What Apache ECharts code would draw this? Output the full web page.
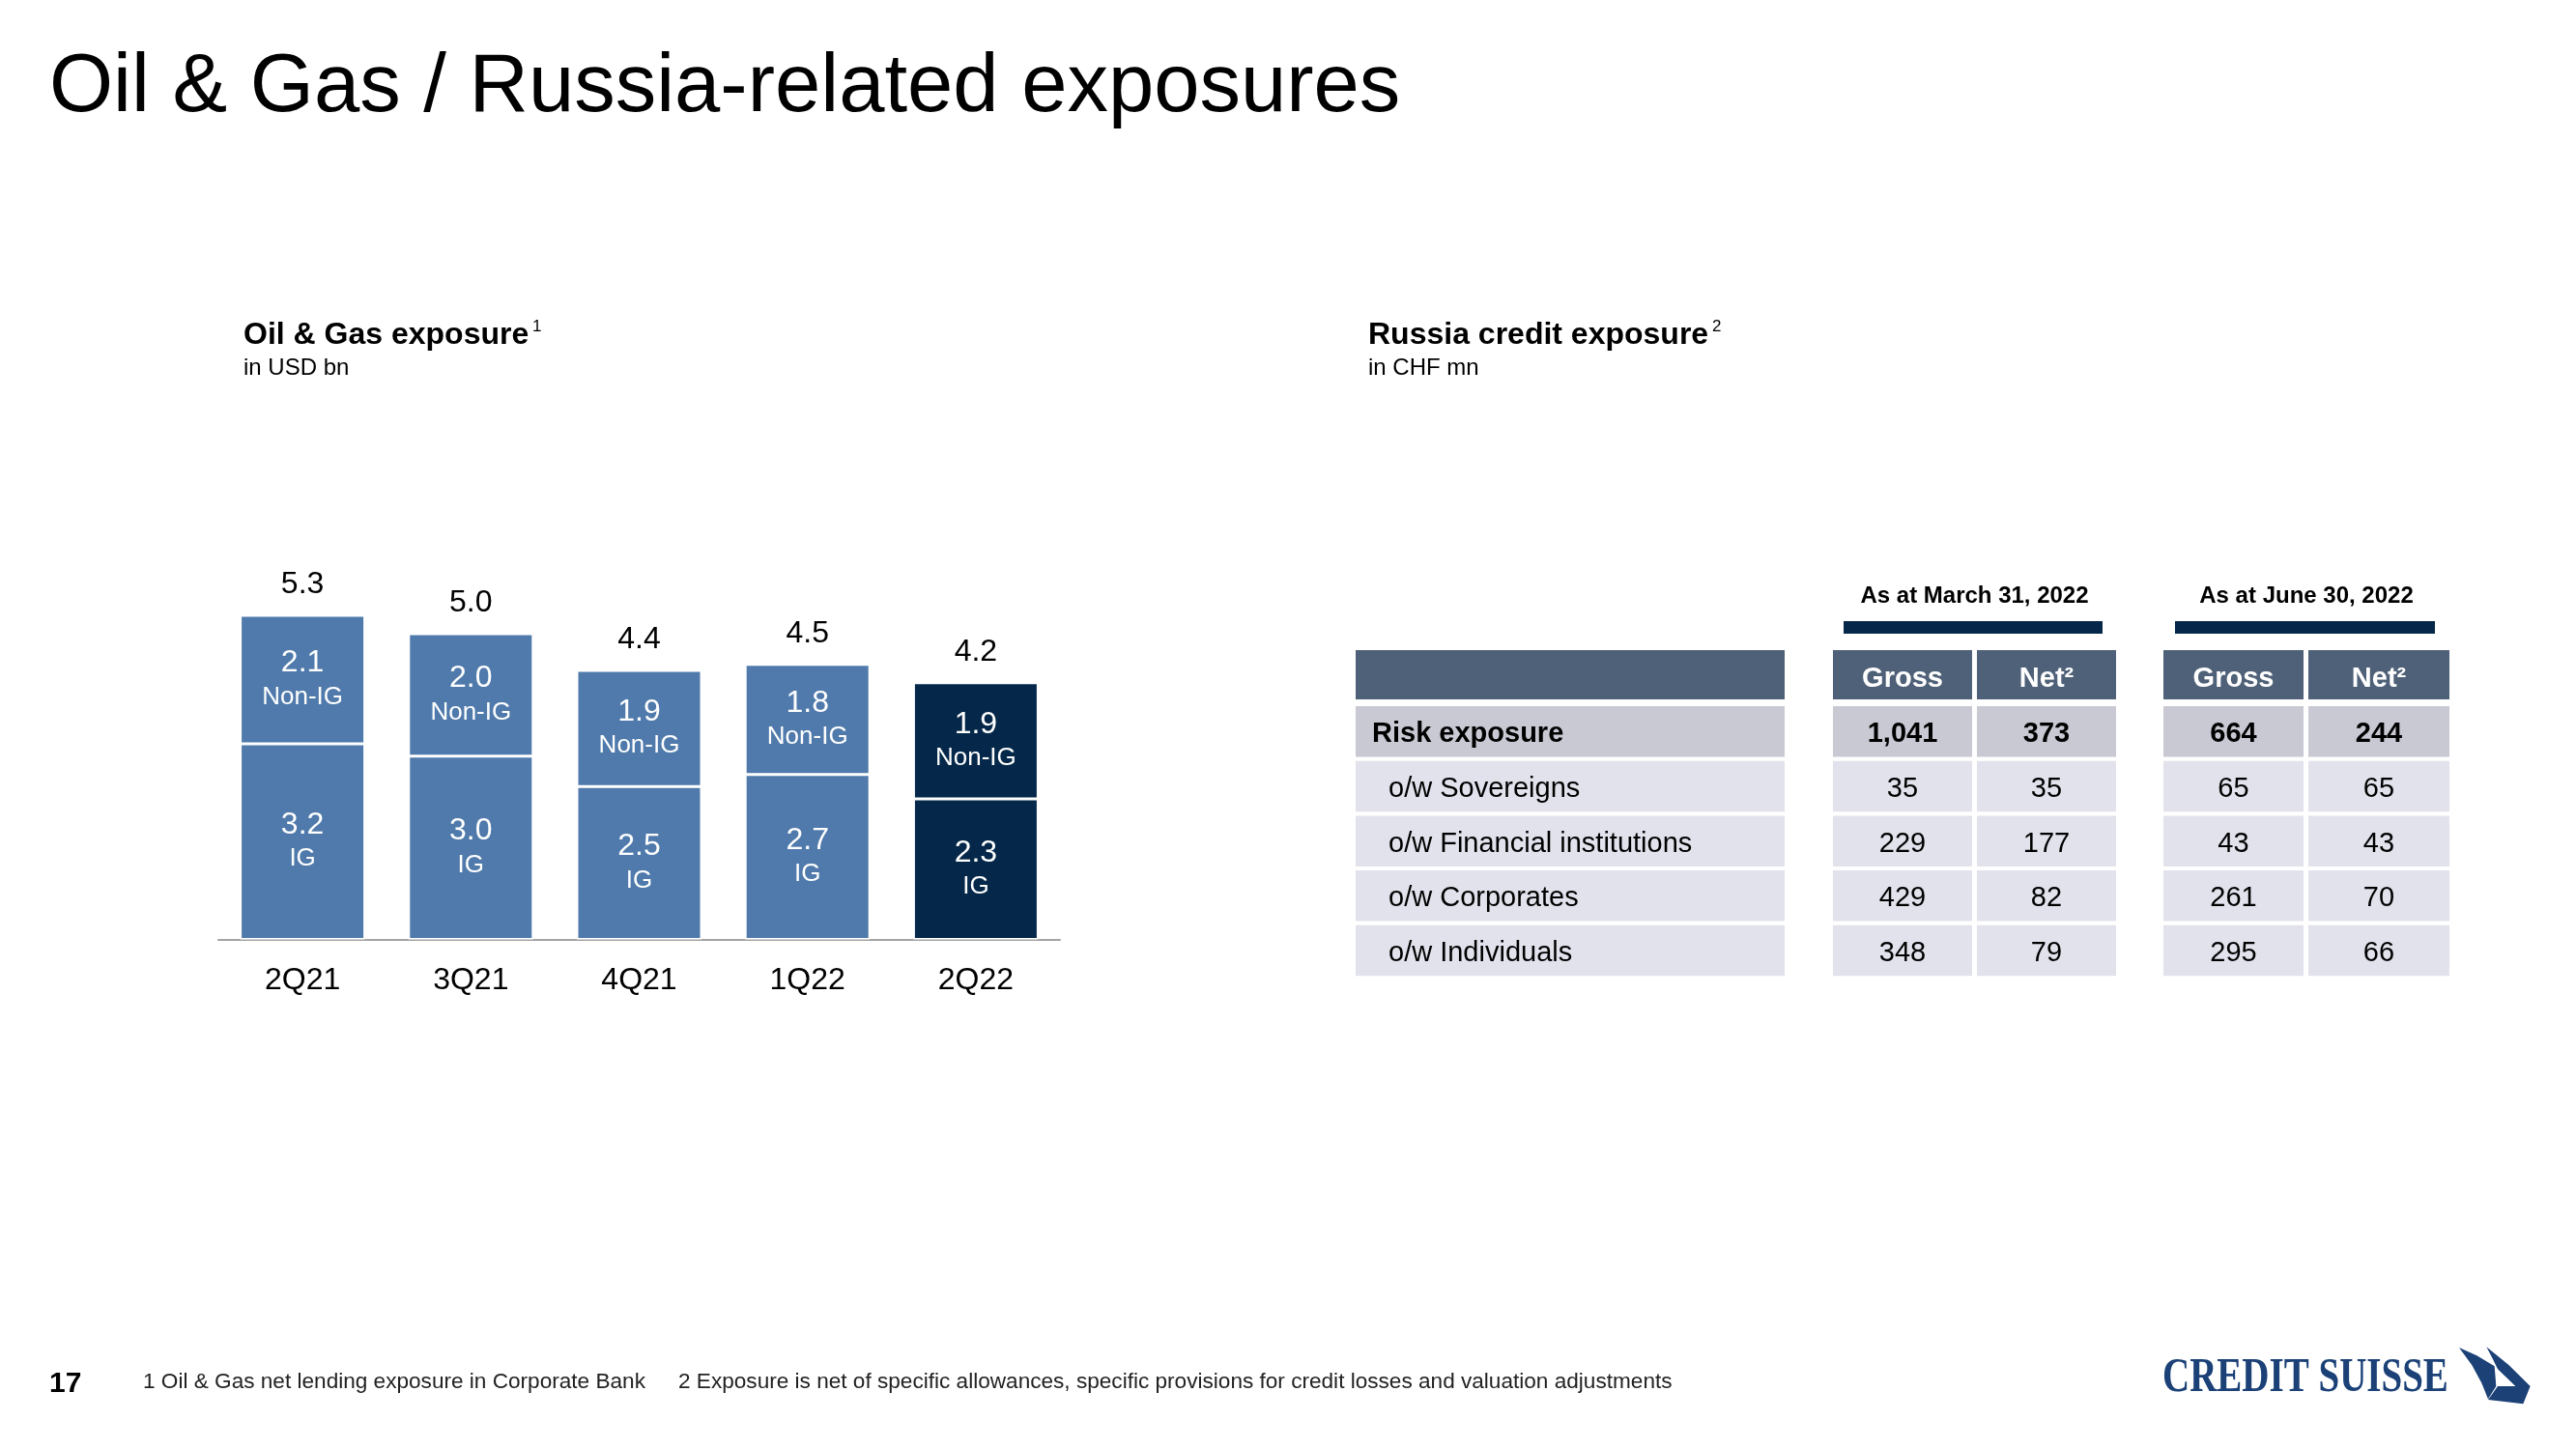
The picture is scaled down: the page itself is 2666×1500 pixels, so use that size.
<!DOCTYPE html>
<html>
<head>
<meta charset="utf-8">
<script src="https://cdn.jsdelivr.net/npm/echarts@6/dist/echarts.min.js"></script>
<style>
html,body{margin:0;padding:0;background:#fff;}
#main{width:2666px;height:1500px;}
</style>
</head>
<body>
<div id="main"></div>
<script>
// ---------- data ----------
const categories = ['2Q21', '3Q21', '4Q21', '1Q22', '2Q22'];
const igValues = [3.2, 3.0, 2.5, 2.7, 2.3];
const nonIgValues = [2.1, 2.0, 1.9, 1.8, 1.9];
const totalValues = [5.3, 5.0, 4.4, 4.5, 4.2];
const highlightCategory = '2Q22';

const periodLabels = ['As at March 31, 2022', 'As at June 30, 2022'];
const columnHeaders = ['Gross', 'Net²'];
const rowLabels = ['Risk exposure', 'o/w Sovereigns', 'o/w Financial institutions', 'o/w Corporates', 'o/w Individuals'];
const mar22Gross = [1041, 35, 229, 429, 348];
const mar22Net = [373, 35, 177, 82, 79];
const jun22Gross = [664, 65, 43, 261, 295];
const jun22Net = [244, 65, 43, 70, 66];

// ---------- styles ----------
const FONT = "'Liberation Sans', Arial, sans-serif";
const LIGHT = '#4F7AAB';
const DARK = '#05284A';
const HEADER = '#4F6178';
const RISKROW = '#C8C9D3';
const ROW = '#E1E2EC';

const chart = echarts.init(document.getElementById('main'), null, {renderer: 'canvas'});

function txt(text, x, y, opts) {
  opts = opts || {};
  return {
    type: 'text', x: x, y: y, silent: true,
    scaleX: opts.scaleX || 1,
    style: {
      text: text,
      fill: opts.fill || '#000',
      fontSize: opts.size || 24,
      fontWeight: opts.weight || 'normal',
      fontFamily: opts.family || FONT,
      align: opts.align || 'left',
      verticalAlign: opts.va || 'middle'
    }
  };
}
function rect(x, y, w, h, fill) {
  return {type: 'rect', silent: true, shape: {x: x, y: y, width: w, height: h}, style: {fill: fill}};
}

const graphics = [];
// page title
graphics.push(txt('Oil & Gas / Russia-related exposures', 51, 92, {size: 85}));
// chart titles
graphics.push(txt('Oil & Gas exposure', 252, 347, {size: 32, weight: 'bold'}));
graphics.push(txt('1', 551, 338, {size: 17}));
graphics.push(txt('in USD bn', 252, 381, {size: 24}));
graphics.push(txt('Russia credit exposure', 1416, 347, {size: 32, weight: 'bold'}));
graphics.push(txt('2', 1772, 338, {size: 17}));
graphics.push(txt('in CHF mn', 1416, 381, {size: 24}));

// ---------- table ----------
const labelCol = {x: 1403, w: 444};
const groups = [
  {cols: [{x: 1897, w: 144}, {x: 2046, w: 144}], bar: {x: 1908, w: 268}, data: [mar22Gross, mar22Net]},
  {cols: [{x: 2239, w: 145}, {x: 2389, w: 146}], bar: {x: 2251, w: 269}, data: [jun22Gross, jun22Net]}
];
const headerY = 673, headerH = 51;
const rowY0 = 731, rowPitch = 56.7, rowH = 52.5;
const fmtInt = v => v.toLocaleString('en-US');

graphics.push(rect(labelCol.x, headerY, labelCol.w, headerH, HEADER));
groups.forEach((g, gi) => {
  const cx = (g.cols[0].x + g.cols[1].x + g.cols[1].w) / 2;
  graphics.push(txt(periodLabels[gi], cx, 617, {size: 24, weight: 'bold', align: 'center'}));
  graphics.push(rect(g.bar.x, 643, g.bar.w, 13, DARK));
  g.cols.forEach((c, ci) => {
    graphics.push(rect(c.x, headerY, c.w, headerH, HEADER));
    graphics.push(txt(columnHeaders[ci], c.x + c.w / 2, headerY + headerH / 2 + 4, {size: 29, weight: 'bold', align: 'center', fill: '#fff'}));
  });
});
rowLabels.forEach((lab, ri) => {
  const y = rowY0 + ri * rowPitch;
  const fill = ri === 0 ? RISKROW : ROW;
  const weight = ri === 0 ? 'bold' : 'normal';
  graphics.push(rect(labelCol.x, y, labelCol.w, rowH, fill));
  graphics.push(txt(lab, ri === 0 ? 1420 : 1437, y + rowH / 2 + 3, {size: 29, weight: weight}));
  groups.forEach(g => {
    g.cols.forEach((c, ci) => {
      graphics.push(rect(c.x, y, c.w, rowH, fill));
      graphics.push(txt(fmtInt(g.data[ci][ri]), c.x + c.w / 2, y + rowH / 2 + 3, {size: 29, weight: weight, align: 'center'}));
    });
  });
});

// ---------- footer ----------
graphics.push(txt('17', 51, 1433, {size: 30, weight: 'bold'}));
graphics.push(txt('1 Oil & Gas net lending exposure in Corporate Bank', 148, 1431, {size: 22.6, fill: '#222'}));
graphics.push(txt('2 Exposure is net of specific allowances, specific provisions for credit losses and valuation adjustments', 702, 1431, {size: 22.6, fill: '#222'}));
// logo
graphics.push(txt('CREDIT SUISSE', 2238, 1427, {size: 50, weight: 'bold', family: "'Liberation Serif', 'Times New Roman', serif", fill: '#1B4177', scaleX: 0.78}));
graphics.push({
  type: 'group', x: 2540, y: 1385, scaleX: 1 / 3, scaleY: 1 / 3, silent: true,
  children: [
    {type: 'polygon', shape: {points: [[15, 30], [70, 55], [125, 88], [130, 150], [105, 190], [85, 140], [55, 85]]}, style: {fill: '#1B4177'}},
    {type: 'polygon', shape: {points: [[100, 28], [170, 85], [236, 150], [214, 205], [105, 192], [135, 150], [190, 150], [135, 97], [118, 62]]}, style: {fill: '#1B4177'}}
  ]
});

// ---------- bar chart ----------
const colorFor = i => categories[i] === highlightCategory ? DARK : LIGHT;
const segLabel = (name) => ({
  show: true, position: 'inside',
  formatter: p => '{v|' + p.value.toFixed(1) + '}\n{t|' + name + '}',
  rich: {
    v: {fontSize: 32, lineHeight: 36, color: '#fff', fontFamily: FONT},
    t: {fontSize: 26, lineHeight: 34, color: '#fff', fontFamily: FONT}
  }
});

const option = {
  animation: false,
  backgroundColor: '#fff',
  grid: {left: 226, width: 871, top: 972.6 - 6 * 63.3, bottom: 1500 - 972.6, containLabel: false},
  xAxis: {
    type: 'category', data: categories,
    axisLine: {lineStyle: {color: '#A3A3A3', width: 2}},
    axisTick: {show: false},
    axisLabel: {fontSize: 32, color: '#000', margin: 27, fontFamily: FONT}
  },
  yAxis: {type: 'value', min: 0, max: 6, show: false},
  series: [
    {
      name: 'IG', type: 'bar', stack: 'total', barWidth: 129,
      data: igValues.map((v, i) => ({value: v, itemStyle: {color: colorFor(i)}})),
      itemStyle: {borderColor: '#fff', borderWidth: 1.5},
      label: segLabel('IG')
    },
    {
      name: 'Non-IG', type: 'bar', stack: 'total', barWidth: 129,
      data: nonIgValues.map((v, i) => ({value: v, itemStyle: {color: colorFor(i)}})),
      itemStyle: {borderColor: '#fff', borderWidth: 1.5},
      label: segLabel('Non-IG')
    },
    {
      name: 'Total', type: 'scatter', symbolSize: 0,
      data: totalValues,
      itemStyle: {color: '#000', opacity: 1},
      label: {show: true, position: 'top', distance: 16, fontSize: 32, color: '#000', opacity: 1, fontFamily: FONT,
        formatter: p => p.value.toFixed(1)},
      emphasis: {disabled: true}
    }
  ],
  graphic: graphics
};
chart.setOption(option);
</script>
</body>
</html>
